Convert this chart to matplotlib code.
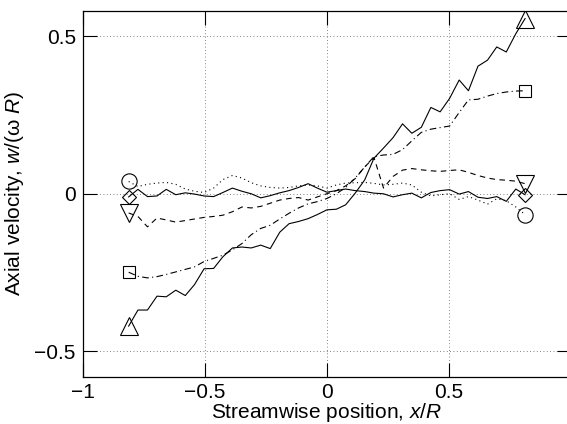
import numpy as np
import matplotlib
matplotlib.use('Agg')
import matplotlib.pyplot as plt

plt.rcParams['font.family'] = ['Liberation Sans', 'DejaVu Sans']
plt.rcParams['mathtext.fontset'] = 'custom'
plt.rcParams['mathtext.rm'] = 'Liberation Sans'
plt.rcParams['mathtext.it'] = 'Liberation Sans:italic'

# streamwise positions x/R
x = [-0.812, -0.774, -0.735, -0.696, -0.658, -0.619, -0.580, -0.542, -0.503,
     -0.464, -0.426, -0.387, -0.348, -0.310, -0.271, -0.232, -0.193, -0.155,
     -0.116, -0.077, -0.039, 0.000, 0.039, 0.077, 0.116, 0.155, 0.193, 0.232,
     0.271, 0.310, 0.348, 0.387, 0.426, 0.464, 0.503, 0.542, 0.580, 0.619,
     0.658, 0.696, 0.735, 0.774, 0.812]

# axial velocity w/(omega R), one array per case
w_tri_up = [-0.42, -0.369, -0.369, -0.325, -0.327, -0.306, -0.323, -0.288, -0.238,
            -0.237, -0.20, -0.172, -0.169, -0.172, -0.163, -0.174, -0.122, -0.095,
            -0.088, -0.079, -0.066, -0.051, -0.049, -0.035, 0.002, 0.044, 0.113,
            0.145, 0.178, 0.222, 0.192, 0.211, 0.274, 0.26, 0.303, 0.361, 0.327,
            0.405, 0.424, 0.466, 0.45, 0.508, 0.556]
w_square = [-0.249, -0.262, -0.267, -0.263, -0.256, -0.248, -0.24, -0.232, -0.215,
            -0.205, -0.195, -0.178, -0.158, -0.13, -0.11, -0.10, -0.08, -0.062,
            -0.045, -0.032, -0.025, -0.015, 0.0, 0.02, 0.05, 0.085, 0.118, 0.123,
            0.125, 0.14, 0.168, 0.195, 0.205, 0.21, 0.215, 0.258, 0.298, 0.30,
            0.31, 0.318, 0.323, 0.326, 0.327]
w_tri_down = [-0.061, -0.072, -0.105, -0.077, -0.083, -0.09, -0.085, -0.08, -0.075,
              -0.072, -0.068, -0.057, -0.042, -0.045, -0.04, -0.03, -0.02, -0.015,
              -0.012, -0.02, -0.01, 0.0, 0.01, 0.025, 0.048, 0.085, 0.115, 0.018,
              0.055, 0.075, 0.08, 0.076, 0.073, 0.071, 0.074, 0.076, 0.068, 0.058,
              0.05, 0.045, 0.043, 0.04, 0.032]
w_diamond = [-0.01, 0.014, -0.009, -0.007, 0.014, -0.003, 0.003, -0.001, -0.007,
             -0.009, 0.004, 0.018, 0.008, 0.0, -0.013, -0.006, 0.003, 0.01, 0.02,
             0.032, 0.018, 0.005, 0.01, 0.015, 0.01, 0.007, 0.002, 0.0, -0.01,
             -0.003, 0.002, -0.013, 0.004, 0.01, 0.013, -0.001, 0.007, -0.011,
             -0.015, -0.009, -0.024, 0.015, -0.003]
w_circle = [0.039, 0.023, 0.03, 0.034, 0.036, 0.03, 0.015, 0.008, 0.004, 0.018,
            0.045, 0.058, 0.05, 0.035, 0.025, 0.02, 0.018, 0.02, 0.025, 0.028,
            0.025, 0.018, 0.028, 0.034, 0.035, 0.036, 0.033, 0.028, 0.03, 0.034,
            0.028, 0.005, -0.007, -0.003, 0.0, -0.018, -0.009, -0.02, -0.033,
            -0.016, -0.022, -0.042, -0.066]

fig = plt.figure(figsize=(5.67, 4.24), dpi=100)
ax = fig.add_axes([0.146, 0.112, 0.861, 0.862])

series = [
    (w_tri_up, '-', '^', 12.5),
    (w_square, (0, (6, 3, 1, 3)), 's', 8.5),
    (w_tri_down, (0, (5, 4)), 'v', 12.5),
    (w_diamond, '-', 'D', 7.5),
    (w_circle, (0, (1, 3)), 'o', 11),
]
for w, ls, mk, ms in series:
    ax.plot(x, w, color='k', linestyle=ls, lw=0.8)
    ax.plot([x[0], x[-1]], [w[0], w[-1]], linestyle='none', marker=mk, ms=ms,
            mfc='none', mec='k', mew=0.8)

ax.set_xlim(-1, 1)
ax.set_ylim(-0.58, 0.58)
# tick at x=1 sits on the cropped right edge, so its label is left empty
ax.set_xticks([-1, -0.5, 0, 0.5, 1])
ax.set_xticklabels(['\u22121', '\u22120.5', '0', '0.5', ''])
ax.set_yticks([-0.5, 0, 0.5])
ax.set_yticklabels(['\u22120.5', '0', '0.5'])
ax.tick_params(direction='in', length=10, width=0.8, top=True, right=True,
               labelsize=15, pad=5)
ax.grid(True, color='0.35', linestyle=(0, (1, 3)), lw=0.6)
for sp in ax.spines.values():
    sp.set_linewidth(0.9)

ax.set_xlabel(r'Streamwise position, $x/R$', fontsize=15)
ax.xaxis.set_label_coords(0.5, -0.066)
ax.set_ylabel(r'Axial velocity, $w$/(ω $R$)', fontsize=15)
ax.yaxis.set_label_coords(-0.116, 0.5)

fig.savefig('out.png', dpi=100)
